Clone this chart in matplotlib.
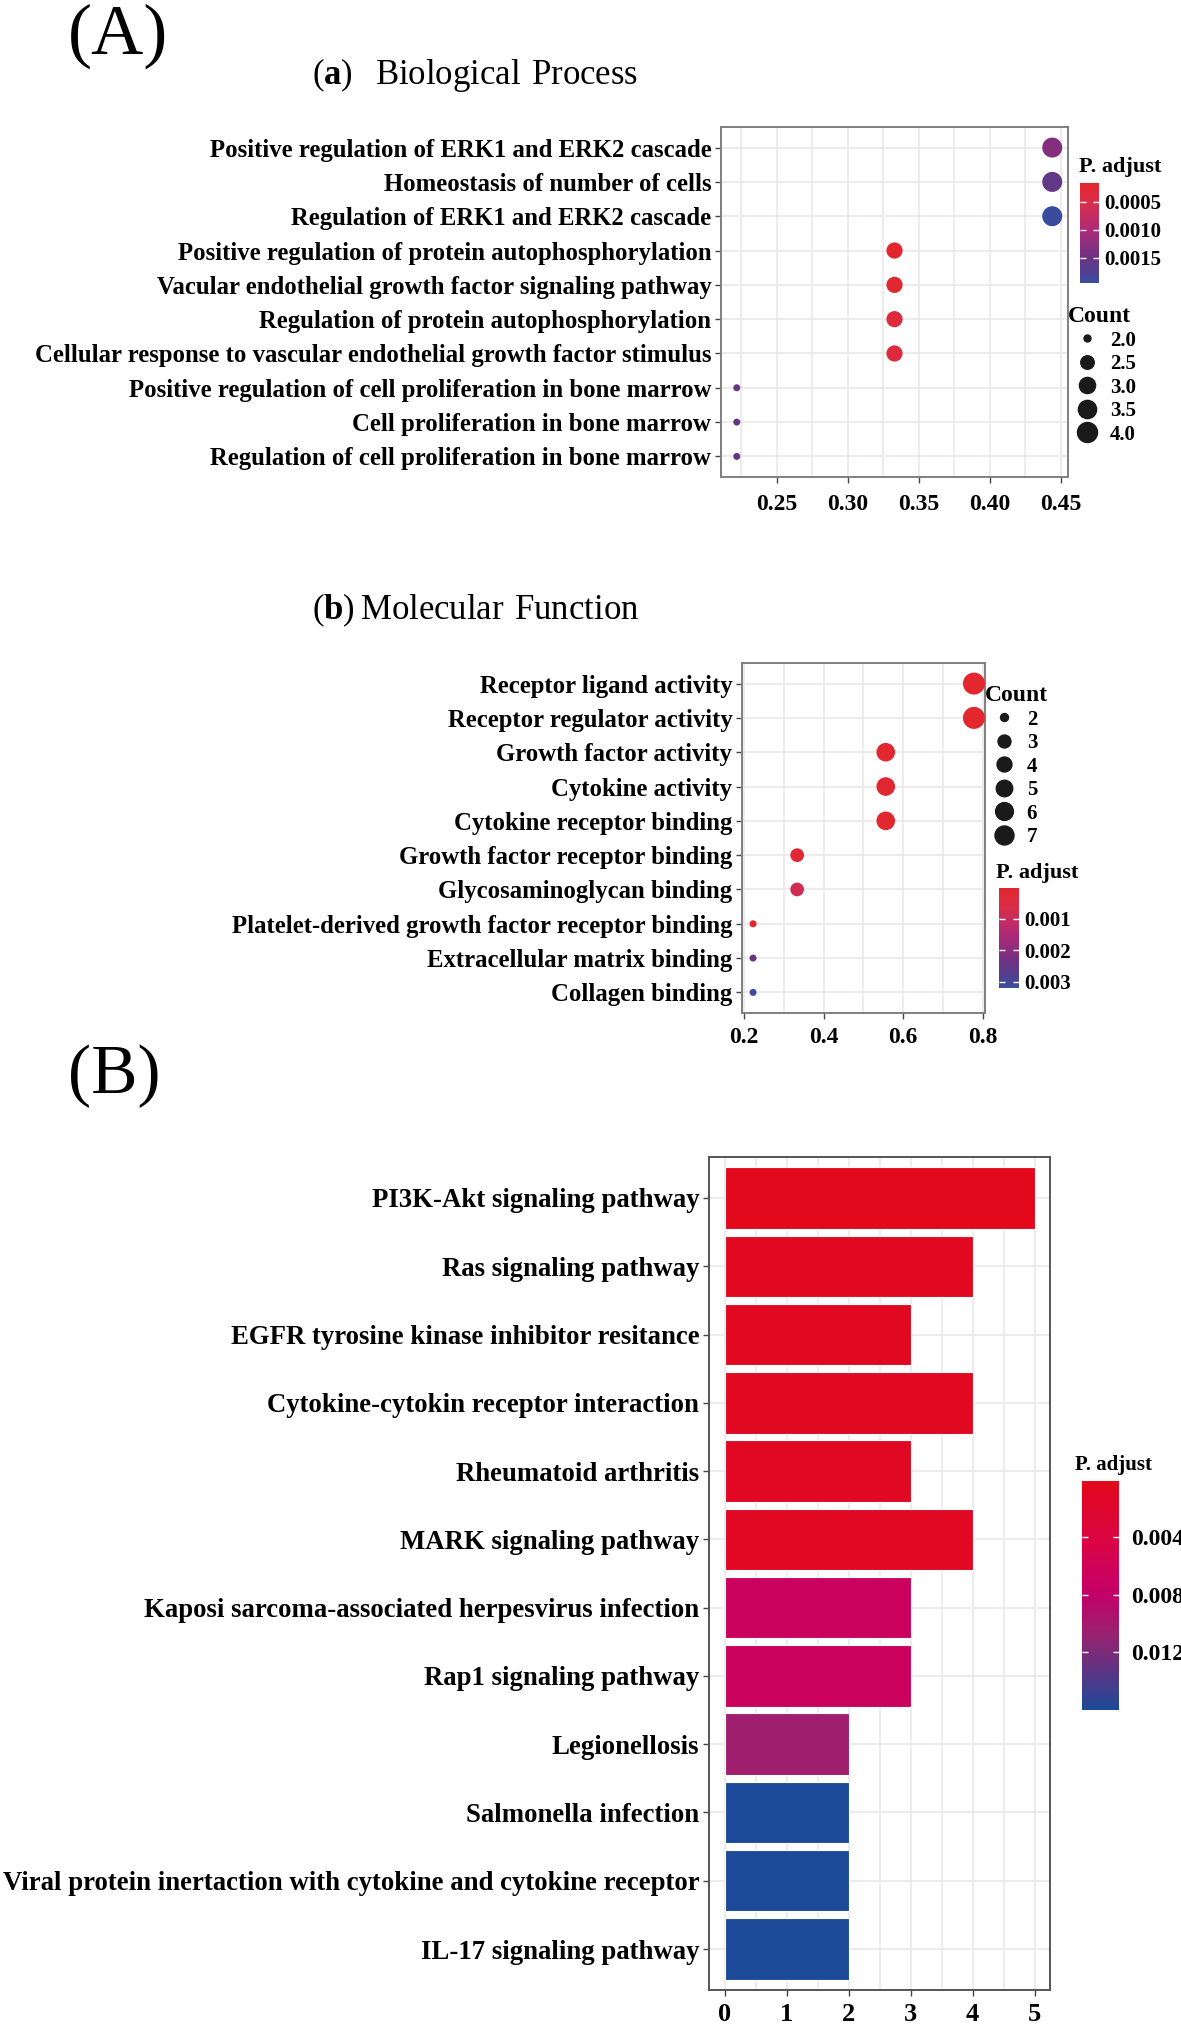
import numpy as np
import matplotlib
matplotlib.use("Agg")
import matplotlib.pyplot as plt
from matplotlib.colors import LinearSegmentedColormap, Normalize
from matplotlib.cm import ScalarMappable
from matplotlib.lines import Line2D

plt.rcParams['font.family'] = 'Liberation Serif'
plt.rcParams['mathtext.fontset'] = 'custom'
plt.rcParams['mathtext.rm'] = 'Liberation Serif'
plt.rcParams['mathtext.bf'] = 'Liberation Serif:bold'

# (a) Biological Process
bp_terms = ["Positive regulation of ERK1 and ERK2 cascade",
            "Homeostasis of number of cells",
            "Regulation of ERK1 and ERK2 cascade",
            "Positive regulation of protein autophosphorylation",
            "Vacular endothelial growth factor signaling pathway",
            "Regulation of protein autophosphorylation",
            "Cellular response to vascular endothelial growth factor stimulus",
            "Positive regulation of cell proliferation in bone marrow",
            "Cell proliferation in bone marrow",
            "Regulation of cell proliferation in bone marrow"]
bp_ratio = [0.444, 0.444, 0.444, 0.333, 0.333, 0.333, 0.333, 0.222, 0.222, 0.222]
bp_count = [4, 4, 4, 3, 3, 3, 3, 2, 2, 2]
bp_padj = [0.00132, 0.00159, 0.00195, 0.00016, 0.00021, 0.00034, 0.00036, 0.00156, 0.00156, 0.00156]
bp_xticks = [0.25, 0.30, 0.35, 0.40, 0.45]
bp_xlabels = ["0.25", "0.30", "0.35", "0.40", "0.45"]

# (b) Molecular Function
mf_terms = ["Receptor ligand activity",
            "Receptor regulator activity",
            "Growth factor activity",
            "Cytokine activity",
            "Cytokine receptor binding",
            "Growth factor receptor binding",
            "Glycosaminoglycan binding",
            "Platelet-derived growth factor receptor binding",
            "Extracellular matrix binding",
            "Collagen binding"]
mf_ratio = [0.778, 0.778, 0.556, 0.556, 0.556, 0.333, 0.333, 0.222, 0.222, 0.222]
mf_count = [7, 7, 5, 5, 5, 3, 3, 2, 2, 2]
mf_padj = [0.00010, 0.00010, 0.00012, 0.00012, 0.00012, 0.00022, 0.00080, 0.00003, 0.00240, 0.00320]
mf_xticks = [0.2, 0.4, 0.6, 0.8]
mf_xlabels = ["0.2", "0.4", "0.6", "0.8"]

# (B) KEGG
kegg_terms = ["PI3K-Akt signaling pathway",
              "Ras signaling pathway",
              "EGFR tyrosine kinase inhibitor resitance",
              "Cytokine-cytokin receptor interaction",
              "Rheumatoid arthritis",
              "MARK signaling pathway",
              "Kaposi sarcoma-associated herpesvirus infection",
              "Rap1 signaling pathway",
              "Legionellosis",
              "Salmonella infection",
              "Viral protein inertaction with cytokine and cytokine receptor",
              "IL-17 signaling pathway"]
kegg_count = [5, 4, 3, 4, 3, 4, 3, 3, 2, 2, 2, 2]
kegg_padj = [0.0002, 0.0005, 0.0006, 0.0006, 0.0008, 0.0009, 0.0068, 0.0068, 0.0104, 0.0160, 0.0160, 0.0160]

W, H = 1181, 2026


def box(l, t, r, b):
    return [l / W, 1 - b / H, (r - l) / W, (b - t) / H]


cmap_go = LinearSegmentedColormap.from_list(
    "go", [(0, '#E3262C'), (0.2, '#D82E4A'), (0.47, '#AE2A78'), (0.75, '#6B3282'), (1, '#3B4C9E')])
cmap_kegg = LinearSegmentedColormap.from_list(
    "kegg", [(0, '#E2091C'), (0.25, '#DC0542'), (0.5, '#C2006A'), (0.65, '#9E1F6E'),
             (0.8, '#6A3080'), (1, '#1C4A98')])

GRID = '#ECE8E8'


def dot_px(c, cmin, cmax, dmin, dmax):
    return dmin + (dmax - dmin) * np.sqrt((np.asarray(c, float) - cmin) / (cmax - cmin))


def style_axes(ax, spine_color, xpad):
    for s in ax.spines.values():
        s.set_color(spine_color)
        s.set_linewidth(1.4)
    ax.set_axisbelow(True)
    ax.grid(which='both', axis='x', color=GRID, lw=1.2)
    ax.grid(which='major', axis='y', color=GRID, lw=1.2)
    ax.tick_params(which='major', length=4, width=1, color='#444444', pad=3)
    ax.tick_params(axis='x', pad=xpad)
    ax.tick_params(which='minor', length=0)


def dot_panel(ax, terms, ratio, count, padj, cmap, dmin, dmax, xmajor, xlabels, xminor, fs, xfs, xpad):
    n = len(terms)
    y = np.arange(n, 0, -1)
    norm = Normalize(min(padj), max(padj))
    d = dot_px(count, min(count), max(count), dmin, dmax)
    ax.scatter(ratio, y, s=(d * 0.72) ** 2, c=cmap(norm(padj)), linewidths=0, zorder=3)
    span = max(ratio) - min(ratio)
    ax.set_xlim(min(ratio) - 0.05 * span, max(ratio) + 0.05 * span)
    ax.set_ylim(0.4, n + 0.6)
    ax.set_yticks(y)
    ax.set_yticklabels(terms, fontsize=fs, fontweight='bold')
    ax.set_xticks(xmajor)
    ax.set_xticks(xminor, minor=True)
    ax.set_xticklabels(xlabels, fontsize=xfs, fontweight='bold')
    style_axes(ax, '#7F7F7F', xpad)
    return norm


def pcolorbar(rect, cmap, norm, ticks, labels, fs, pad, title, title_xy, title_fs):
    cax = fig.add_axes(rect)
    cb = fig.colorbar(ScalarMappable(norm=norm, cmap=cmap), cax=cax)
    cb.outline.set_visible(False)
    cax.invert_yaxis()
    cb.set_ticks(ticks)
    cb.set_ticklabels(labels)
    cax.tick_params(direction='in', length=4, width=1, color='white', left=True, right=True,
                    labelleft=False, labelright=True, labelsize=fs, pad=pad)
    for t in cax.get_yticklabels():
        t.set_fontweight('bold')
    fig.text(title_xy[0] / W, 1 - title_xy[1] / H, title, fontsize=title_fs, fontweight='bold',
             va='center', ha='left')


def size_legend(ax, values, labels, cmin, cmax, dmin, dmax, anchor, fs, spacing):
    d = dot_px(values, cmin, cmax, dmin, dmax)
    handles = [Line2D([], [], marker='o', ls='', color='#1A1A1A', markersize=di * 0.72) for di in d]
    leg = ax.legend(handles, labels, title="Count", loc='upper left',
                    bbox_to_anchor=(anchor[0] / W, 1 - anchor[1] / H), bbox_transform=fig.transFigure,
                    frameon=False, title_fontsize=fs + 2, labelspacing=spacing,
                    handletextpad=0.2, handlelength=1.8, borderpad=0, borderaxespad=0,
                    alignment='left', prop={'weight': 'bold', 'size': fs})
    leg.get_title().set_fontweight('bold')


fig = plt.figure(figsize=(W / 100, H / 100), dpi=100)

# panel labels and titles
fig.text(68 / W, 1 - 36 / H, "(A)", fontsize=52, va='center', ha='left')
fig.text(68 / W, 1 - 1076 / H, "(B)", fontsize=50, va='center', ha='left')
fig.text(312 / W, 1 - 75 / H, r"$(\mathbf{a})\ \ \mathrm{Biological\ Process}$", fontsize=25,
         va='center', ha='left')
fig.text(312 / W, 1 - 610 / H, r"$(\mathbf{b})\,\mathrm{Molecular\ Function}$", fontsize=25,
         va='center', ha='left')

# (a)
ax_a = fig.add_axes(box(721, 127, 1068, 477))
norm_a = dot_panel(ax_a, bp_terms, bp_ratio, bp_count, bp_padj, cmap_go, 7, 20,
                   bp_xticks, bp_xlabels, [0.225, 0.275, 0.325, 0.375, 0.425], 17.8, 17, 8)
pcolorbar(box(1080, 183, 1099, 283), cmap_go, norm_a, [0.0005, 0.0010, 0.0015],
          ["0.0005", "0.0010", "0.0015"], 15, 4, "P. adjust", (1079, 167), 16)
size_legend(ax_a, [2.0, 2.5, 3.0, 3.5, 4.0], ["2.0", "2.5", "3.0", "3.5", "4.0"], 2, 4, 7, 20,
            (1068, 306), 15, 0.17)

# (b)
ax_b = fig.add_axes(box(742, 663, 985, 1013))
norm_b = dot_panel(ax_b, mf_terms, mf_ratio, mf_count, mf_padj, cmap_go, 7, 22,
                   mf_xticks, mf_xlabels, [0.3, 0.5, 0.7], 17.8, 17, 6)
pcolorbar(box(999, 888, 1019, 988), cmap_go, norm_b, [0.001, 0.002, 0.003],
          ["0.001", "0.002", "0.003"], 15, 4, "P. adjust", (996, 873), 16)
size_legend(ax_b, [2, 3, 4, 5, 6, 7], ["2", "3", "4", "5", "6", "7"], 2, 7, 8, 19,
            (985, 685), 15, 0.17)

# (B)
ax_B = fig.add_axes(box(709, 1157, 1050, 1990))
n = len(kegg_terms)
yk = np.arange(n, 0, -1)
norm_k = Normalize(0.0001, max(kegg_padj))
ax_B.barh(yk, kegg_count, height=0.9, color=cmap_kegg(norm_k(kegg_padj)), edgecolor='white',
          lw=0.8, zorder=3)
ax_B.set_xlim(-0.25, 5.25)
ax_B.set_ylim(0.4, n + 0.6)
ax_B.set_yticks(yk)
ax_B.set_yticklabels(kegg_terms, fontsize=19.3, fontweight='bold')
ax_B.set_xticks(range(6))
ax_B.set_xticks(np.arange(0.5, 5, 1), minor=True)
ax_B.set_xticklabels([str(v) for v in range(6)], fontsize=19, fontweight='bold')
style_axes(ax_B, '#555555', 5)
pcolorbar(box(1082, 1481, 1119, 1710), cmap_kegg, norm_k, [0.004, 0.008, 0.012],
          ["0.004", "0.008", "0.012"], 17, 9, "P. adjust", (1075, 1465), 15)

fig.savefig("out.png", dpi=100)
